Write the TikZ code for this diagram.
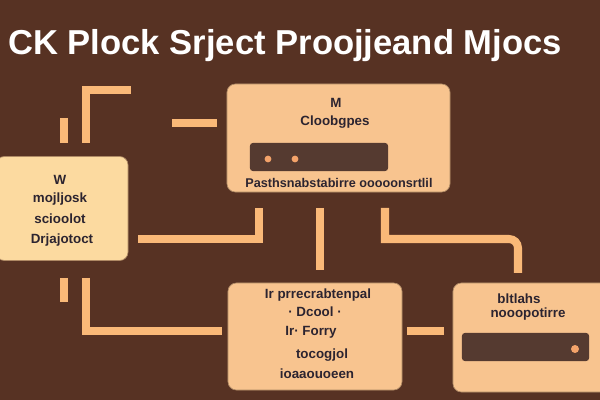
\documentclass[tikz,border=0pt]{standalone}
\usepackage{fontspec}
\setmainfont{Liberation Sans}
\usetikzlibrary{positioning, calc}
\definecolor{bgbrown}{HTML}{573223}
\definecolor{wireorange}{HTML}{FAB978}
\definecolor{peach}{HTML}{F8C48F}
\definecolor{paleyellow}{HTML}{FCDAA0}
\definecolor{barbrown}{HTML}{553A30}
\definecolor{inkdark}{HTML}{2C2430}
\definecolor{dotorange}{HTML}{F4A36A}

\begin{document}
\begin{tikzpicture}[x=0.025cm, y=-0.025cm,
  box/.style={draw=peach!70!black, line width=0.5pt, rounded corners=6pt, fill=peach, inner sep=0pt},
  bar/.style={fill=barbrown, rounded corners=2pt, inner sep=0pt, minimum height=0.7cm},
  label/.style={font=\fontsize{9.5}{11}\selectfont\bfseries, text=inkdark, inner sep=0pt},
  wire/.style={draw=wireorange, line width=5.7pt},
  dot/.style={circle, fill=dotorange, minimum size=0.17cm, inner sep=0pt}]
  \clip (0,0) rectangle (600,400);
  \fill[bgbrown] (0,0) rectangle (600,400);
  \node[font=\fontsize{24.6}{27}\selectfont\bfseries, text=white, anchor=base west, inner sep=0pt] (title) at (8,55) {CK Plock Srject Proojjeand Mjocs};
  % boxes
  \node[box, fill=paleyellow, minimum width=3.3cm, minimum height=2.6cm] (lbox) at (62,208.5) {};
  \node[box, minimum width=5.575cm, minimum height=2.7cm] (tbox) at (338.5,138) {};
  \node[box, minimum width=4.35cm, minimum height=2.675cm] (bbox) at (315,336.5) {};
  \node[box, minimum width=3.925cm, minimum height=2.725cm] (rbox) at (531.5,337.5) {};
  \node[bar, minimum width=3.45cm] (tbar) at (319,157) {};
  \node[bar, minimum width=3.175cm] (rbar) at (525.5,347) {};
  \node[dot] (tdot1) at (268,159) {};
  \node[dot] (tdot2) at (295,159) {};
  \node[dot, minimum size=0.2cm] (rdot) at (575,349) {};
  % texts
  \node[label] (l1) at (60,180) {W};
  \node[label] (l2) at (60,199) {mojljosk};
  \node[label] (l3) at (60,219) {scioolot};
  \node[label] (l4) at (62,240) {Drjajotoct};
  \node[label] (t1) at (336,103) {M};
  \node[label] (t2) at (335,122) {Cloobgpes};
  \node[label, font=\fontsize{9}{11}\selectfont\bfseries] (t3) at (339,183) {Pasthsnabstabirre ooooonsrtlil};
  \node[label] (b1) at (318,295) {Ir prrecrabtenpal};
  \node[label] (b2) at (315,312) {· Dcool ·};
  \node[label] (b3) at (311,332) {Ir· Forry};
  \node[label] (b4) at (322,355) {tocogjol};
  \node[label] (b5) at (317,374) {ioaaouoeen};
  \node[label] (r1) at (519,299) {bltlahs};
  \node[label] (r2) at (528,314) {nooopotirre};
  % connector ends
  \coordinate (c1a) at (86,143);  \coordinate (c1b) at (131,90);
  \coordinate (c2a) at (64,118);  \coordinate (c2b) at (64,143);
  \coordinate (c3a) at (172,123); \coordinate (c3b) at (217,123);
  \coordinate (c4a) at (138,239); \coordinate (c4b) at (259,208);
  \coordinate (c5a) at (320,208); \coordinate (c5b) at (320,270);
  \coordinate (c6a) at (385,208); \coordinate (c6k) at (385,239);
  \coordinate (c6m) at (518,239); \coordinate (c6b) at (518,273);
  \coordinate (c7a) at (64,278);  \coordinate (c7b) at (64,302);
  \coordinate (c8a) at (86,278);  \coordinate (c8b) at (222,331);
  \coordinate (c9a) at (407,331); \coordinate (c9b) at (444,331);
  % connectors
  \draw[wire] (c1a) |- (c1b);
  \foreach \s in {2,3,5,7,9} {
    \draw[wire] (c\s a) -- (c\s b);
  }
  \draw[wire] (c4a) -| (c4b);
  \draw[wire] (c6a) -- (c6k) -- ($(c6m)+(-9,0)$) arc[start angle=-90, end angle=0, radius=9] -- (c6b);
  \draw[wire] (c8a) |- (c8b);
\end{tikzpicture}
\end{document}
